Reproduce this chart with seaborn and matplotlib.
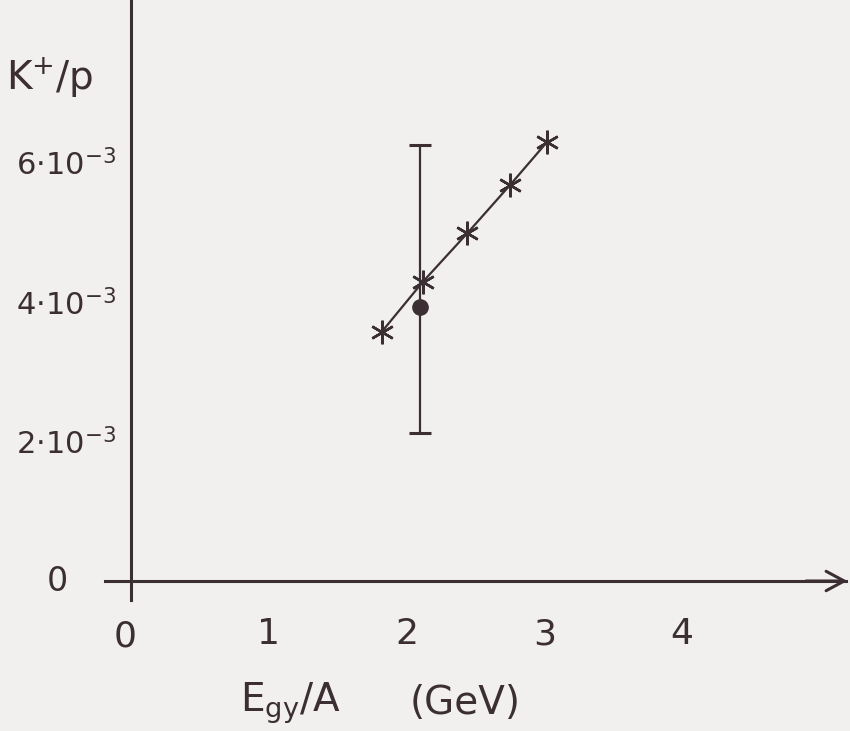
import matplotlib
matplotlib.use("Agg")
import matplotlib.pyplot as plt
import seaborn as sns

# K+/p ratio versus beam energy per nucleon
energy = [1.82, 2.12, 2.44, 2.75, 3.02]                   # E_gy/A (GeV)
ratio = [3.57e-3, 4.29e-3, 4.98e-3, 5.67e-3, 6.29e-3]     # K+/p, model curve
meas_energy = [2.1]
meas_ratio = [3.93e-3]
meas_low = [2.12e-3]
meas_high = [6.25e-3]

xticks = [1, 2, 3, 4]
xticklabels = ["1", "2", "3", "4"]
yticks = [2e-3, 4e-3, 6e-3]
yticklabels = [r"$\mathregular{2{\cdot}10^{-3}}$",
               r"$\mathregular{4{\cdot}10^{-3}}$",
               r"$\mathregular{6{\cdot}10^{-3}}$"]

ink = "#3b2f33"
paper = "#f1f0ee"

sns.set_style("white")
plt.rcParams.update({
    "font.family": ["DejaVu Sans"],
    "mathtext.fontset": "dejavusans",
})

fig = plt.figure(figsize=(8.5, 7.31), dpi=100, facecolor=paper)
ax = fig.add_axes([0, 0, 1, 1])
ax.set_facecolor(paper)
ax.set_xlim(-0.951, 5.219)
ax.set_ylim(-2.149e-3, 8.324e-3)

# axes crossing at the origin
for side in ("top", "right"):
    ax.spines[side].set_visible(False)
ax.spines["left"].set_position(("data", 0))
ax.spines["bottom"].set_position(("data", 0))
ax.spines["left"].set_bounds(-0.27e-3, 8.324e-3)
ax.spines["bottom"].set_bounds(-0.19, 5.19)
for side in ("left", "bottom"):
    ax.spines[side].set_color(ink)
    ax.spines[side].set_linewidth(2.2)

ax.annotate("", xy=(5.2, 0), xytext=(4.9, 0),
            arrowprops=dict(arrowstyle="->,head_length=1.3,head_width=0.7",
                            lw=2.2, color=ink, shrinkA=0, shrinkB=0))

ax.set_xticks(xticks, xticklabels)
ax.set_yticks(yticks, yticklabels)
ax.tick_params(axis="x", direction="out", length=9, width=2.2, color=ink,
               pad=17, labelsize=26, labelcolor=ink)
ax.tick_params(axis="y", direction="out", length=6.5, width=2.2, color=ink,
               pad=4, labelsize=22, labelcolor=ink)

# model curve with asterisk markers
sns.lineplot(x=energy, y=ratio, ax=ax, color=ink, lw=1.6, sort=False,
             marker=(6, 2, 0), markersize=17, markeredgewidth=1.8,
             markeredgecolor=ink)

# measured point with its error range
ax.errorbar(meas_energy, meas_ratio,
            yerr=[[m - l for m, l in zip(meas_ratio, meas_low)],
                  [h - m for m, h in zip(meas_ratio, meas_high)]],
            fmt="o", color=ink, ms=11, elinewidth=1.6, capsize=8, capthick=2.2)

# origin labels and axis titles
ax.text(-0.537, 0, "0", fontsize=24, color=ink, ha="center", va="center")
ax.text(-0.044, -0.80e-3, "0", fontsize=26, color=ink, ha="center", va="center")
ax.text(-0.588, 7.21e-3, r"$\mathregular{K^{+}/p}$", fontsize=28, color=ink,
        ha="center", va="center")
ax.text(0.791, -1.75e-3, r"$\mathregular{E_{gy}/A}$", fontsize=28, color=ink,
        ha="left", va="center")
ax.text(2.025, -1.75e-3, "(GeV)", fontsize=28, color=ink,
        ha="left", va="center")

fig.savefig("out.png", dpi=100, facecolor=paper)
